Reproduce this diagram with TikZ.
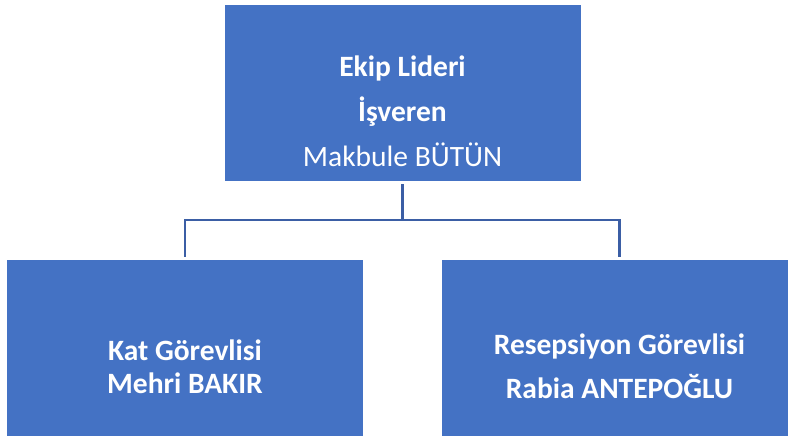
\documentclass[tikz,border=0pt]{standalone}
\usepackage{fontspec}
\setmainfont{Carlito}
\usetikzlibrary{positioning}
\definecolor{boxblue}{RGB}{68,114,196}
\definecolor{linkblue}{RGB}{59,94,165}

\begin{document}
\begin{tikzpicture}[x=1pt, y=-1pt,
    box/.style={rectangle, fill=boxblue, draw=white, line width=0.6pt,
    minimum width=357pt, minimum height=177pt, inner sep=0pt},
    boxtext/.style={text=white, align=center, inner sep=0pt},
    link/.style={draw=linkblue, line width=2.6pt}]
    \clip (0,0) rectangle (788,436);

    \node (lider) [box] at (402.5,92.5) {};
    \node (kat) [box] at (185,347.5) {};
    \node (resepsiyon) [box] at (619.5,347.5) {};

    \node (liderText) [boxtext, font=\fontsize{29.5}{45}\selectfont] at ([yshift=-19pt]lider.center)
    {
        \textbf{Ekip Lideri} \\ \textbf{İşveren} \\ Makbule BÜTÜN
    };
    \node (katText) [boxtext, font=\bfseries\fontsize{29.5}{33}\selectfont] at ([yshift=-19pt]kat.center)
    {
        Kat Görevlisi \\ Mehri BAKIR
    };
    \node (resepsiyonText) [boxtext, font=\bfseries\fontsize{29.5}{44}\selectfont] at ([yshift=-19pt]resepsiyon.center)
    {
        Resepsiyon Görevlisi \\ Rabia ANTEPOĞLU
    };

    \coordinate (split) at (402.5,220);
    \draw [link, shorten <=3pt] (lider.south) -- (split);
    \draw [link, shorten <=2pt, shorten >=2pt] (kat.north) |- (split) -| (resepsiyon.north);
\end{tikzpicture}
\end{document}
